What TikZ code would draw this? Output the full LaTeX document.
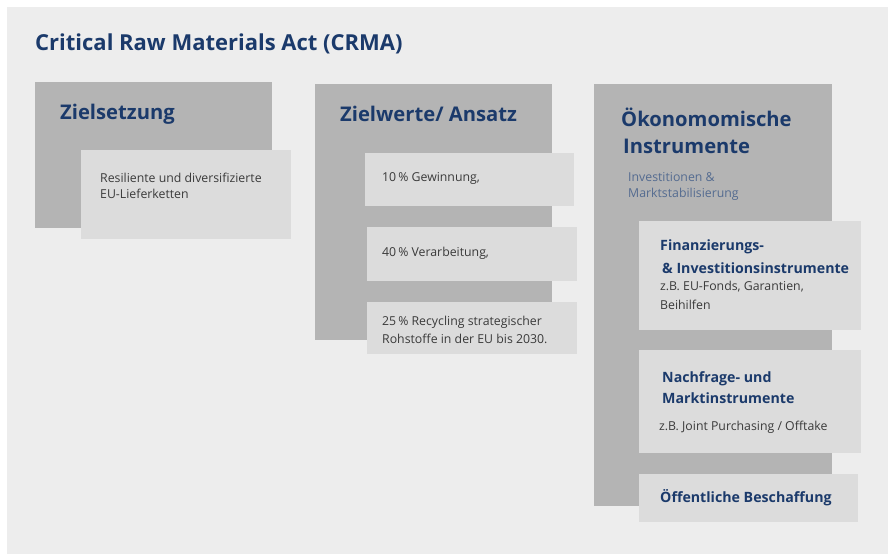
\documentclass[tikz,border=0pt]{standalone}
\usepackage{fontspec}
\setmainfont{Open Sans}
\definecolor{bgc}{HTML}{EDEDED}
\definecolor{darkbox}{HTML}{B4B4B4}
\definecolor{lightbox}{HTML}{DCDCDC}
\definecolor{navy}{HTML}{1B3A6B}
\definecolor{txt}{HTML}{3A3A3A}
\begin{document}
\begin{tikzpicture}[x=1pt,y=-1pt,
  darkrect/.style={fill=darkbox,draw=none},
  lightrect/.style={fill=lightbox,draw=none},
  title/.style={anchor=west,inner sep=0pt,text=navy,font=\fontsize{22}{26}\selectfont\bfseries},
  head/.style={anchor=west,inner sep=0pt,text=navy,font=\fontsize{20.2}{24}\selectfont\bfseries},
  subhead/.style={anchor=west,inner sep=0pt,text=navy,font=\fontsize{14.2}{17}\selectfont\bfseries},
  body/.style={anchor=west,inner sep=0pt,text=txt,font=\fontsize{12.3}{15}\selectfont},
  note/.style={anchor=west,inner sep=0pt,text=navy!75!white,font=\fontsize{12.3}{15}\selectfont}]
\useasboundingbox (0,0) rectangle (888,554);
\fill[white] (0,0) rectangle (888,554);
\fill[bgc] (7,7) rectangle (888,554);
\node[title] (t) at (35,44) {Critical Raw Materials Act (CRMA)};
% column 1
\fill[darkrect] (35,82) rectangle (272,228);
\fill[lightrect] (81,150) rectangle (291,239);
\node[head] (h1) at (60,114) {Zielsetzung};
\node[body] (b1a) at (100,178) {Resiliente und diversifizierte};
\node[body] (b1b) at (100,194) {EU-Lieferketten};
% column 2
\fill[darkrect] (315,84) rectangle (552,340);
\fill[lightrect] (365,153) rectangle (574,206);
\fill[lightrect] (367,227) rectangle (577,281);
\fill[lightrect] (367,302) rectangle (577,354);
\node[head] (h2) at (340,114) {Zielwerte/ Ansatz};
\node[body] (b2a) at (382,178) {10\,\% Gewinnung,};
\node[body] (b2b) at (382,253) {40\,\% Verarbeitung,};
\node[body] (b2c) at (382,322) {25\,\% Recycling strategischer};
\node[body] (b2d) at (382,339) {Rohstoffe in der EU bis 2030.};
% column 3
\fill[darkrect] (594,84) rectangle (832,506);
\fill[lightrect] (639,221) rectangle (861,330);
\fill[lightrect] (639,350) rectangle (861,453);
\fill[lightrect] (639,474) rectangle (858,522);
\node[head] (h3a) at (621,117) {Ökonomomische};
\node[head] (h3b) at (623,146) {Instrumente};
\node[note] (n3a) at (628,177) {Investitionen \&};
\node[note] (n3b) at (628,194) {Marktstabilisierung};
\node[subhead] (s1a) at (660,247) {Finanzierungs-};
\node[subhead] (s1b) at (662,268) {\& Investitionsinstrumente};
\node[body] (s1c) at (660,287) {z.B. EU-Fonds, Garantien,};
\node[body] (s1d) at (660,305) {Beihilfen};
\node[subhead] (s2a) at (662,379) {Nachfrage- und};
\node[subhead] (s2b) at (662,398) {Marktinstrumente};
\node[body] (s2c) at (659,427) {z.B. Joint Purchasing / Offtake};
\node[subhead] (s3) at (660,498) {Öffentliche Beschaffung};
\end{tikzpicture}
\end{document}
